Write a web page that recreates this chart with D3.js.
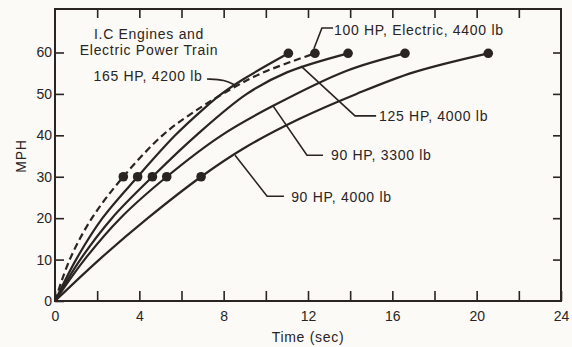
<!DOCTYPE html>
<html>
<head>
<meta charset="utf-8">
<script src="https://cdn.jsdelivr.net/npm/d3@7"></script>
<style>
  body { margin: 0; background: #fbfaf6; }
  svg { display: block; }
  text { font-family: "Liberation Sans", Arial, Helvetica, sans-serif; fill: #2a2422; }
  .axis text { font-size: 14px; }
  .axis line { stroke: #2a2422; stroke-width: 1.6; }
  .axis path { display: none; }
  .lbl { font-size: 14px; letter-spacing: 0.7px; }
</style>
</head>
<body>
<script>

// speed curves, time in seconds and speed in mph
var electricTime = [0, 0.7, 1.75, 3.24, 5.1, 6.4, 7.95, 9.8, 12.33];
var electricMph  = [0, 10, 20, 30, 40, 45, 50, 55, 59.8];

var hp165Time = [0, 1.0, 2.25, 3.92, 5.7, 7.05, 7.9, 8.95, 11.07];
var hp165Mph  = [0, 10, 20, 30, 40, 46.4, 50, 53.6, 59.8];

var hp125Time = [0, 1.2, 2.7, 4.62, 6.7, 9.1, 11.0, 13.9];
var hp125Mph  = [0, 10, 20, 30, 40, 50, 55.2, 59.8];

var hp90lightTime = [0, 1.4, 3.1, 5.3, 7.9, 10.3, 13.84, 16.6];
var hp90lightMph  = [0, 10, 20, 30, 40, 47, 55.6, 59.8];

var hp90heavyTime = [0, 2.1, 4.4, 6.93, 9.0, 11.6, 14.3, 17.0, 20.55];
var hp90heavyMph  = [0, 10, 20, 30, 37, 44, 50, 55.2, 59.8];

var xTicks = [0, 2, 4, 6, 8, 10, 12, 14, 16, 18, 20, 22, 24];
var xLabels = [0, 4, 8, 12, 16, 20, 24];
var yTicks = [0, 10, 20, 30, 40, 50, 60];

var titleLines = ["I.C Engines and", "Electric Power Train"];

var series = [
  {name: "100 HP, Electric, 4400 lb", time: electricTime, mph: electricMph, dashed: true},
  {name: "165 HP, 4200 lb", time: hp165Time, mph: hp165Mph, dashed: false},
  {name: "125 HP, 4000 lb", time: hp125Time, mph: hp125Mph, dashed: false},
  {name: "90 HP, 3300 lb", time: hp90lightTime, mph: hp90lightMph, dashed: false},
  {name: "90 HP, 4000 lb", time: hp90heavyTime, mph: hp90heavyMph, dashed: false}
];

// label text position and leader path, in data units (sec, mph)
var labelText = [[13.23, 64.2], [7.0, 53.0], [15.37, 43.5], [13.09, 34.0], [11.2, 23.8]];
var labelAnchor = ["start", "end", "start", "start", "start"];
var leaders = [
  [[13.19, 65.9], [12.66, 65.9], [12.28, 60.9]],
  [[7.21, 53.6], [8.06, 53.4], [8.54, 52.1]],
  [[15.23, 44.7], [14.23, 44.7], [11.67, 56.7]],
  [[12.71, 35.2], [11.95, 35.2], [10.34, 47.1]],
  [[10.86, 25.3], [10.06, 25.3], [8.54, 35.2]]
];

var ink = "#2a2422";
var w = 572, h = 347;

var svg = d3.select("body").append("svg")
  .attr("width", w)
  .attr("height", h);

var x = d3.scaleLinear().domain([0, 24]).range([55, 561]);
var y = d3.scaleLinear().domain([0, 70.5]).range([301, 9]);

// frame
svg.append("rect")
  .attr("x", x(0))
  .attr("y", y(70.5))
  .attr("width", x(24) - x(0))
  .attr("height", y(0) - y(70.5))
  .style("fill", "none")
  .style("stroke", ink)
  .style("stroke-width", 2);

// bottom axis with inward ticks
svg.append("g")
  .attr("class", "axis")
  .attr("transform", "translate(0," + y(0) + ")")
  .call(d3.axisBottom(x).tickValues(xTicks).tickSize(-10).tickPadding(10)
    .tickFormat(function(d) { return xLabels.indexOf(d) >= 0 ? d : ""; }));

// top axis
svg.append("g")
  .attr("class", "axis")
  .attr("transform", "translate(0," + y(70.5) + ")")
  .call(d3.axisTop(x).tickValues(xTicks.slice(1, -1)).tickSize(-9).tickFormat(""));

// left axis
svg.append("g")
  .attr("class", "axis")
  .attr("transform", "translate(" + x(0) + ",0)")
  .call(d3.axisLeft(y).tickValues(yTicks).tickSize(-9).tickPadding(3));

// right axis
svg.append("g")
  .attr("class", "axis")
  .attr("transform", "translate(" + x(24) + ",0)")
  .call(d3.axisRight(y).tickValues(yTicks.slice(1)).tickSize(-8).tickFormat(""));

// axis titles
svg.append("text")
  .attr("class", "lbl")
  .attr("x", (x(0) + x(24)) / 2)
  .attr("y", 342)
  .style("text-anchor", "middle")
  .text("Time (sec)");

svg.append("text")
  .attr("class", "lbl")
  .attr("transform", "translate(26," + y(35) + ") rotate(-90)")
  .style("text-anchor", "middle")
  .text("MPH");

// title inside plot
svg.selectAll(".title")
  .data(titleLines)
  .enter().append("text")
  .attr("class", "lbl title")
  .attr("x", x(4.46))
  .attr("y", function(d, i) { return y(63.3) + i * 16; })
  .style("text-anchor", "middle")
  .text(function(d) { return d; });

// curves
var line = d3.line()
  .x(function(d) { return x(d[0]); })
  .y(function(d) { return y(d[1]); })
  .curve(d3.curveCatmullRom.alpha(0.5));

series.forEach(function(s) {
  var pts = s.time.map(function(t, i) { return [t, s.mph[i]]; });
  svg.append("path")
    .datum(pts)
    .attr("d", line)
    .style("fill", "none")
    .style("stroke", ink)
    .style("stroke-width", 2.2)
    .style("stroke-dasharray", s.dashed ? "7,4" : null);

  // dots at 30 mph and at the end
  var dots = pts.filter(function(p, i) { return p[1] == 30 || i == pts.length - 1; });
  svg.selectAll(null)
    .data(dots)
    .enter().append("circle")
    .attr("cx", function(d) { return x(d[0]); })
    .attr("cy", function(d) { return y(d[1]); })
    .attr("r", 4.8)
    .style("fill", ink);
});

// leader lines
var leaderLine = d3.line()
  .x(function(d) { return x(d[0]); })
  .y(function(d) { return y(d[1]); });

leaders.forEach(function(l, i) {
  svg.append("path")
    .attr("d", leaderLine.curve(i == 1 ? d3.curveBasis : d3.curveLinear)(l))
    .style("fill", "none")
    .style("stroke", ink)
    .style("stroke-width", 1.6);
});

// series labels
svg.selectAll(".serlbl")
  .data(series)
  .enter().append("text")
  .attr("class", "lbl serlbl")
  .attr("x", function(d, i) { return x(labelText[i][0]); })
  .attr("y", function(d, i) { return y(labelText[i][1]); })
  .style("text-anchor", function(d, i) { return labelAnchor[i]; })
  .text(function(d) { return d.name; });

</script>
</body>
</html>
